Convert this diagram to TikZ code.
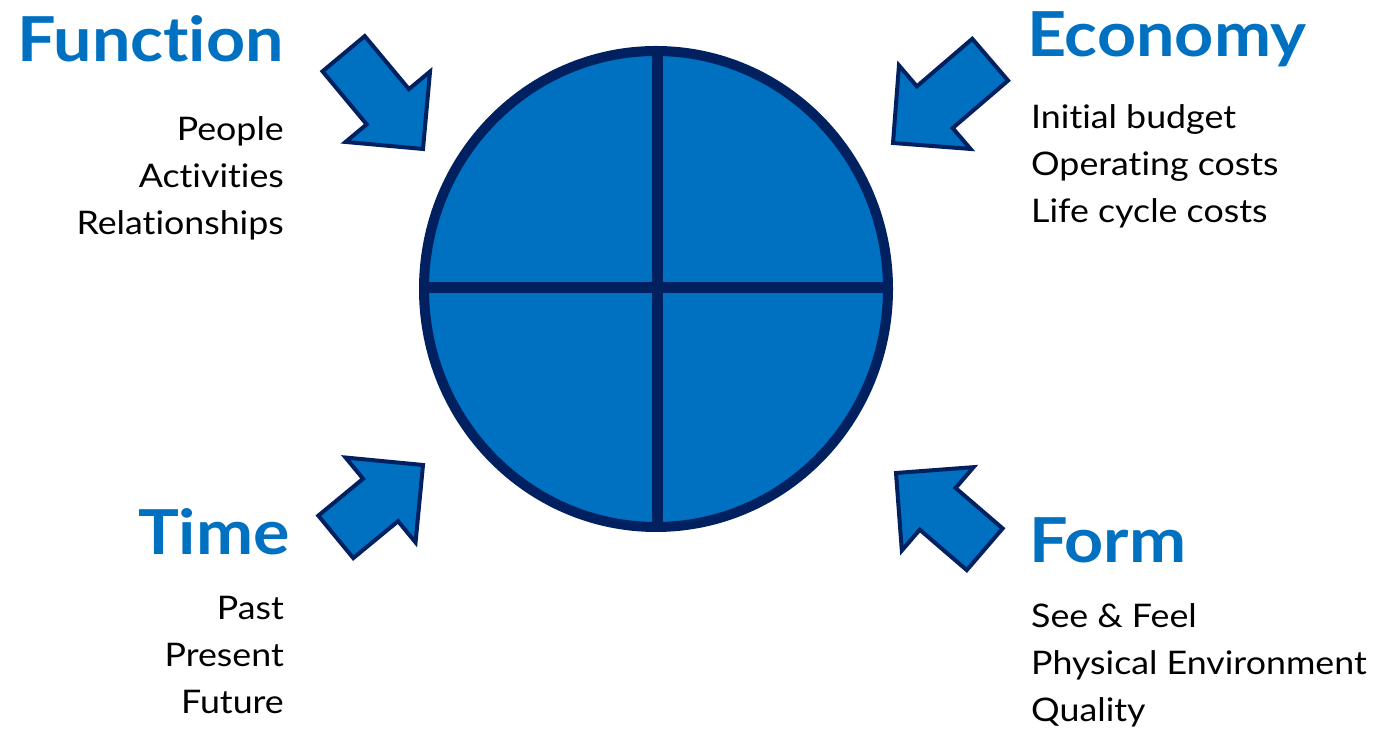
\documentclass[tikz,border=0pt]{standalone}
\usepackage{fontspec}
\setmainfont{Lato}[Ligatures=NoCommon,FakeStretch=1.1]
\usetikzlibrary{positioning}
\definecolor{quadblue}{RGB}{0,112,192}
\definecolor{navy}{RGB}{0,32,96}

\begin{document}
\begin{tikzpicture}[x=1pt,y=1pt,
    heading/.style={text=quadblue,font=\fontsize{62}{70}\selectfont\bfseries,inner sep=0pt},
    items/.style={text=black,font=\fontsize{32.5}{47}\selectfont,inner sep=0pt},
    blockarrow/.style={draw=navy,fill=quadblue,line width=4pt,line join=miter}]
  \useasboundingbox (0,0) rectangle (1376,733);

  % the four quarters
  \draw[navy,fill=quadblue,line width=10pt] (656,444) ellipse [x radius=232,y radius=238];
  \draw[navy,line width=11pt] (657.5,206) -- (657.5,684);
  \draw[navy,line width=11pt] (424,445.5) -- (888,445.5);

  % block arrows pointing at the circle
  \foreach \n/\x/\y/\a/\l in {function/423/584/-50.2/124, economy/893/590/220.6/128,
      time/423/268/39.5/113, form/896/260/139.3/117}
  {
    \draw[blockarrow,shift={(\x,\y)},rotate=\a]
      (0,0) -- (-55,55) -- (-55,27.5) -- (-\l,27.5) -- (-\l,-27.5) -- (-55,-27.5) -- (-55,-55) -- cycle;
  }

  % headings
  \node[heading,anchor=base east] (function) at (284,671) {Function};
  \node[heading,anchor=base west] (economy) at (1027,676) {Economy};
  \node[heading,anchor=base east] (time) at (290,178) {Time};
  \node[heading,anchor=base west] (form) at (1029,170) {Form};

  % lists (base = last line)
  \node[items,anchor=base east,align=right] (functionlist) at (284,498) {People\\Activities\\Relationships};
  \node[items,anchor=base west,align=left] (economylist) at (1031,510) {Initial budget\\Operating costs\\Life cycle costs};
  \node[items,anchor=base east,align=right] (timelist) at (284,19) {Past\\Present\\Future};
  \node[items,anchor=base west,align=left] (formlist) at (1031,11) {See \& Feel\\Physical Environment\\Quality};
\end{tikzpicture}
\end{document}
